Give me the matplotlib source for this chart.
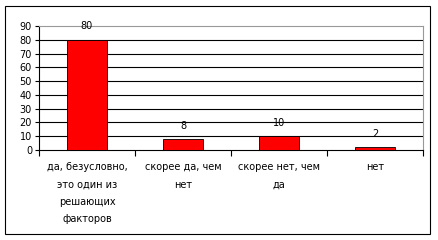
import matplotlib
matplotlib.use("Agg")
import matplotlib.pyplot as plt
from matplotlib.patches import Rectangle

categories = ["да, безусловно,\nэто один из\nрешающих\nфакторов",
              "скорее да, чем\nнет",
              "скорее нет, чем\nда",
              "нет"]
values = [80, 8, 10, 2]
yticks = [0, 10, 20, 30, 40, 50, 60, 70, 80, 90]

W, H = 439, 240
fig = plt.figure(figsize=(W / 100, H / 100), dpi=100)
fig.patch.set_facecolor("white")

# outer chart border
fig.patches.append(Rectangle((5 / W, 6 / H), 425 / W, 228 / H, transform=fig.transFigure,
                             fill=False, edgecolor="black", linewidth=0.8))

ax = fig.add_axes([39 / W, (H - 150) / H, 384 / W, 124 / H])
x = range(len(values))
ax.bar(x, values, width=0.41, color="#ff0000", edgecolor="black", linewidth=0.6, zorder=3)

for i, v in enumerate(values):
    ax.annotate(str(v), (i, v), xytext=(0, 6), textcoords="offset points",
                ha="center", va="bottom", fontsize=7)

ax.set_xlim(-0.5, len(values) - 0.5)
ax.set_ylim(0, 90)
ax.set_yticks(yticks)
ax.set_yticklabels([str(t) for t in yticks], fontsize=7)
for t in yticks[1:-1]:
    ax.axhline(t, color="black", linewidth=0.8, zorder=1)

ax.set_xticks([i - 0.5 for i in range(len(values) + 1)], minor=False)
ax.set_xticklabels([])
ax.set_xticks(list(x), minor=True)
ax.set_xticklabels(categories, minor=True, fontsize=7, linespacing=1.9)
ax.tick_params(axis="x", which="minor", length=0, pad=9)
ax.tick_params(axis="x", which="major", length=4, width=0.8, direction="out")
ax.tick_params(axis="y", length=3, width=0.8, pad=2)

for side in ["top", "right"]:
    ax.spines[side].set_color("#999999")
    ax.spines[side].set_linewidth(0.8)
for side in ["left", "bottom"]:
    ax.spines[side].set_color("black")
    ax.spines[side].set_linewidth(0.8)

fig.savefig("out.png", dpi=100)
